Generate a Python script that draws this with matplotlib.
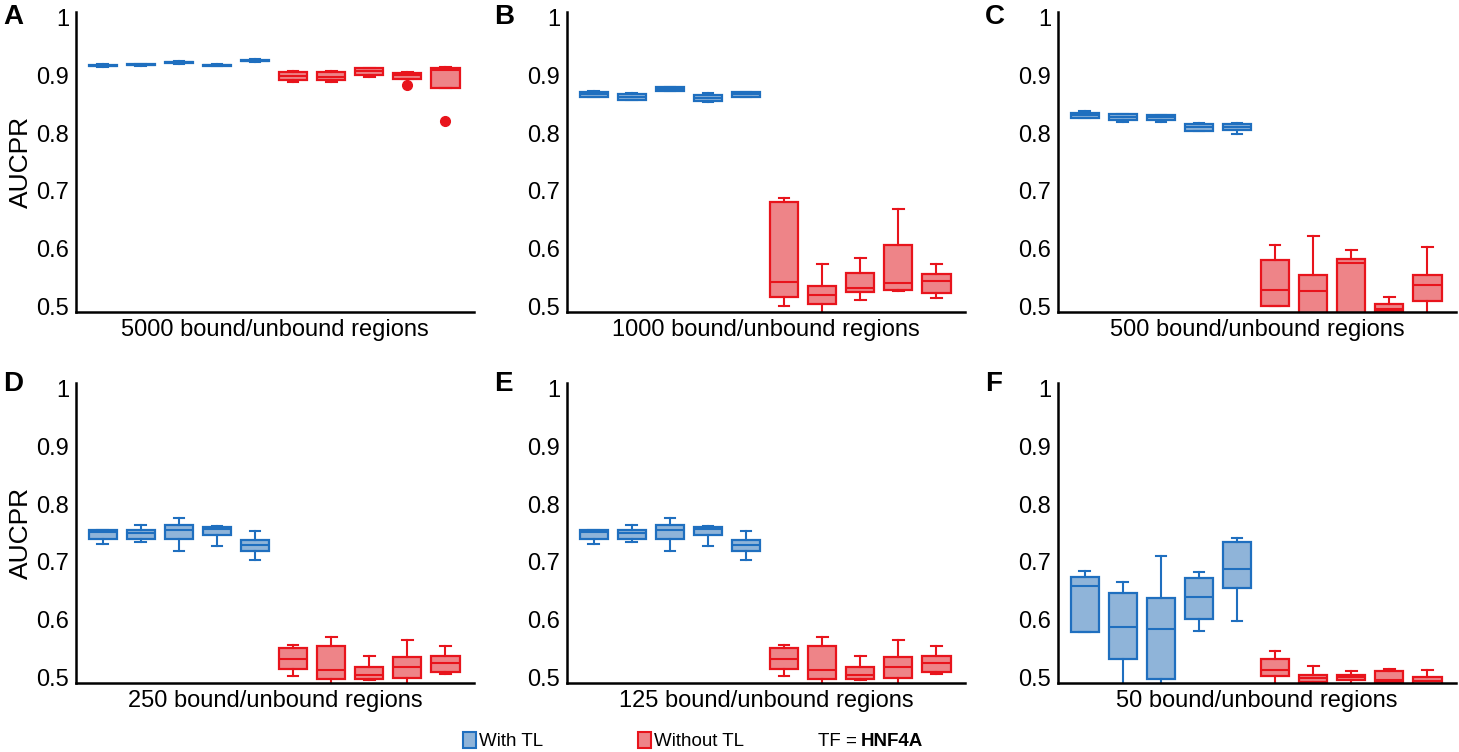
import matplotlib.pyplot as plt
from matplotlib.patches import Patch

plt.rcParams['font.family'] = ['Liberation Sans', 'DejaVu Sans']

# box statistics per panel, 5 "with TL" then 5 "without TL" models
panel_letters = ["A", "B", "C", "D", "E", "F"]
panel_titles = ["5000 bound/unbound regions", "1000 bound/unbound regions",
                "500 bound/unbound regions", "250 bound/unbound regions",
                "125 bound/unbound regions", "50 bound/unbound regions"]

med_A = [0.916, 0.918, 0.922, 0.917, 0.925, 0.898, 0.897, 0.907, 0.8995, 0.909]
q1_A = [0.915, 0.917, 0.921, 0.916, 0.924, 0.891, 0.891, 0.900, 0.894, 0.877]
q3_A = [0.918, 0.919, 0.923, 0.918, 0.926, 0.9057, 0.905, 0.9126, 0.904, 0.9116]
lo_A = [0.914, 0.916, 0.920, 0.915, 0.923, 0.888, 0.888, 0.896, 0.894, 0.877]
hi_A = [0.919, 0.920, 0.924, 0.919, 0.927, 0.9074, 0.907, 0.9126, 0.906, 0.914]
fl_A = [[], [], [], [], [], [], [], [], [0.883], [0.821]]

med_B = [0.8668, 0.862, 0.876, 0.860, 0.867, 0.5425, 0.5207, 0.533, 0.5414, 0.5448]
q1_B = [0.863, 0.8575, 0.873, 0.8557, 0.863, 0.5167, 0.504, 0.526, 0.5293, 0.5236]
q3_B = [0.871, 0.8667, 0.879, 0.865, 0.871, 0.6805, 0.5357, 0.559, 0.6074, 0.556]
lo_B = [0.862, 0.857, 0.873, 0.854, 0.863, 0.5022, 0.48, 0.511, 0.528, 0.516]
hi_B = [0.873, 0.870, 0.879, 0.869, 0.871, 0.6885, 0.5747, 0.585, 0.668, 0.5736]
fl_B = [[] for _ in range(10)]

med_C = [0.8305, 0.8282, 0.8276, 0.8109, 0.811, 0.5293, 0.5276, 0.5759, 0.497, 0.537]
q1_C = [0.8253, 0.8224, 0.8224, 0.804, 0.8052, 0.5017, 0.485, 0.485, 0.4926, 0.5092]
q3_C = [0.835, 0.8328, 0.831, 0.8155, 0.8155, 0.581, 0.5557, 0.5828, 0.504, 0.5552]
lo_C = [0.8253, 0.8184, 0.8195, 0.8036, 0.7983, 0.5017, 0.48, 0.48, 0.4926, 0.48]
hi_C = [0.8379, 0.8328, 0.831, 0.8167, 0.818, 0.6074, 0.6224, 0.5989, 0.5172, 0.6034]
fl_C = [[] for _ in range(10)]

med_D = [0.751, 0.7494, 0.7552, 0.7575, 0.7299, 0.5328, 0.5138, 0.5046, 0.5178, 0.5247]
q1_D = [0.7391, 0.7397, 0.7397, 0.746, 0.7184, 0.5144, 0.4983, 0.4983, 0.500, 0.5092]
q3_D = [0.7552, 0.7557, 0.7632, 0.7603, 0.7385, 0.5506, 0.5557, 0.519, 0.5362, 0.5374]
lo_D = [0.7316, 0.7345, 0.7195, 0.7276, 0.7029, 0.5023, 0.48, 0.496, 0.48, 0.5069]
hi_D = [0.7552, 0.7638, 0.7753, 0.7615, 0.7529, 0.5563, 0.5701, 0.5379, 0.5649, 0.5546]
fl_D = [[] for _ in range(10)]

med_E = [0.751, 0.7494, 0.7552, 0.7575, 0.7299, 0.5328, 0.5138, 0.5046, 0.5178, 0.5247]
q1_E = [0.7391, 0.7397, 0.7397, 0.746, 0.7184, 0.5144, 0.4983, 0.4983, 0.500, 0.5092]
q3_E = [0.7552, 0.7557, 0.7632, 0.7603, 0.7385, 0.5506, 0.5557, 0.519, 0.5362, 0.5374]
lo_E = [0.7316, 0.7345, 0.7195, 0.7276, 0.7029, 0.5023, 0.48, 0.496, 0.48, 0.5069]
hi_E = [0.7552, 0.7638, 0.7753, 0.7615, 0.7529, 0.5563, 0.5701, 0.5379, 0.5649, 0.5546]
fl_E = [[] for _ in range(10)]

med_F = [0.6586, 0.5874, 0.5845, 0.6402, 0.6885, 0.5126, 0.499, 0.5006, 0.4954, 0.495]
q1_F = [0.5787, 0.5316, 0.4977, 0.6017, 0.6557, 0.5034, 0.4931, 0.496, 0.4931, 0.485]
q3_F = [0.6747, 0.646, 0.6379, 0.6718, 0.7345, 0.5322, 0.5046, 0.5052, 0.5109, 0.5017]
lo_F = [0.5787, 0.48, 0.48, 0.581, 0.5989, 0.48, 0.48, 0.48, 0.4931, 0.48]
hi_F = [0.6839, 0.6661, 0.7098, 0.6828, 0.7414, 0.5471, 0.5201, 0.5121, 0.5155, 0.5132]
fl_F = [[] for _ in range(10)]

all_panels = [
    (med_A, q1_A, q3_A, lo_A, hi_A, fl_A),
    (med_B, q1_B, q3_B, lo_B, hi_B, fl_B),
    (med_C, q1_C, q3_C, lo_C, hi_C, fl_C),
    (med_D, q1_D, q3_D, lo_D, hi_D, fl_D),
    (med_E, q1_E, q3_E, lo_E, hi_E, fl_E),
    (med_F, q1_F, q3_F, lo_F, hi_F, fl_F),
]
yticks = [0.5, 0.6, 0.7, 0.8, 0.9, 1]
ytick_labels = ["0.5", "0.6", "0.7", "0.8", "0.9", "1"]

blue_edge, blue_fill = "#1f6fbf", "#8fb4d9"
red_edge, red_fill = "#e8141c", "#ee8488"

W, H = 1459, 752
fig = plt.figure(figsize=(W / 100, H / 100), dpi=100)

col_left = [76, 567, 1058]
row_top = [12, 383]
ax_w, ax_h = 398, 300

for i, (med, q1, q3, lo, hi, fl) in enumerate(all_panels):
    r, c = divmod(i, 3)
    ax = fig.add_axes([col_left[c] / W, 1 - (row_top[r] + ax_h) / H, ax_w / W, ax_h / H])
    stats = []
    for k in range(10):
        stats.append(dict(med=med[k], q1=q1[k], q3=q3[k], whislo=lo[k], whishi=hi[k], fliers=fl[k]))
    for k in range(10):
        edge = blue_edge if k < 5 else red_edge
        fill = blue_fill if k < 5 else red_fill
        ax.bxp([stats[k]], positions=[k + 1], widths=0.74, capwidths=0.28, patch_artist=True,
               boxprops=dict(facecolor=fill, edgecolor=edge, linewidth=1.6),
               medianprops=dict(color=edge, linewidth=1.5),
               whiskerprops=dict(color=edge, linewidth=1.5),
               capprops=dict(color=edge, linewidth=1.5),
               flierprops=dict(marker="o", markerfacecolor=edge, markeredgecolor=edge, markersize=7))
    ax.set_xlim(0.3, 10.75)
    ax.set_ylim(0.491, 1.009)
    ax.set_yticks(yticks)
    ax.set_yticklabels(ytick_labels)
    ax.set_xticks([])
    ax.tick_params(axis="y", length=0, pad=5, labelsize=17)
    for s in ["top", "right"]:
        ax.spines[s].set_visible(False)
    for s in ["left", "bottom"]:
        ax.spines[s].set_linewidth(1.8)
    ax.set_xlabel(panel_titles[i], fontsize=17, labelpad=5)
    if c == 0:
        ax.set_ylabel("AUCPR", fontsize=19, labelpad=2)
    fig.text([3, 494, 985][c] / W, 1 - ([4, 371][r]) / H, panel_letters[i],
             fontsize=20, fontweight="bold", va="top", ha="left")

blue_patch = Patch(facecolor=blue_fill, edgecolor=blue_edge, linewidth=1.5, label="With TL")
red_patch = Patch(facecolor=red_fill, edgecolor=red_edge, linewidth=1.5, label="Without TL")
for patch, x in [(blue_patch, 463), (red_patch, 638)]:
    fig.legend(handles=[patch], loc="center left", bbox_to_anchor=(x / W, 1 - 741 / H),
               frameon=False, fontsize=13.5, borderpad=0, borderaxespad=0,
               handlelength=0.7, handleheight=1.0, handletextpad=0.15)
fig.text(818 / W, 1 - 741 / H, "TF =", fontsize=13.5, va="center", ha="left")
fig.text(861 / W, 1 - 741 / H, "HNF4A", fontsize=13.5, fontweight="bold", va="center", ha="left")

fig.savefig("out.png", dpi=100)
